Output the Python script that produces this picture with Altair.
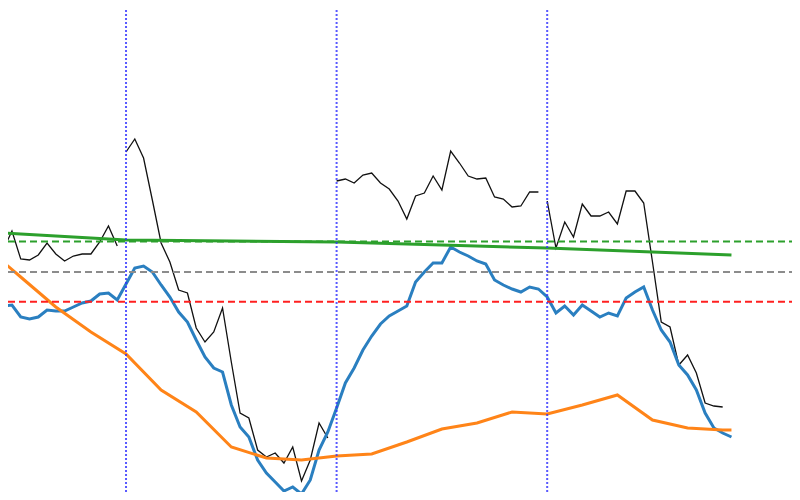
import altair as alt
import pandas as pd

# ---- data (x = time step, y = value) ----
black_seg1_k = list(range(-15, 0))
black_seg1_v = [242, 250, 269, 241, 240, 245, 257, 246, 239, 244, 246, 246, 258, 274, 254]
black_seg2_k = list(range(0, 24))
black_seg2_v = [348, 361, 342, 300, 257, 238, 210, 207, 172, 158, 168, 192, 138, 87, 82, 50,
                43, 47, 37, 53, 19, 40, 77, 62]
black_seg3_k = list(range(24, 48))
black_seg3_v = [319, 321, 317, 325, 327, 317, 311, 299, 281, 304, 307, 324, 310, 349, 337, 324,
                321, 322, 303, 301, 293, 294, 308, 308]
black_seg4_k = list(range(48, 69))
black_seg4_v = [299, 252, 278, 263, 296, 284, 284, 288, 276, 309, 309, 297, 238, 178, 173, 135,
                145, 127, 97, 94, 93]

blue_k = list(range(-15, 70))
blue_v = [194, 194, 195, 183, 181, 183, 190, 189, 189, 193, 197, 199, 206, 207, 200,
          216, 232, 234, 228, 215, 203, 188, 178, 160, 143, 132, 128, 95, 73, 63, 40, 27, 18, 9, 13, 6, 20, 50, 68,
          92, 117, 132, 150, 164, 176, 184, 189, 194, 218, 228, 237, 237, 253, 248, 244, 239, 236, 220, 215, 211, 208, 213, 211,
          203, 187, 194, 185, 195, 189, 183, 187, 184, 202, 208, 213, 190, 170, 158, 135, 125, 110, 87, 72, 67, 63]

orange_k = [-16, -12, -8, -4, 0, 4, 8, 12, 16, 20, 24, 28, 32, 36, 40, 44, 48, 52, 56, 60, 64, 68, 69]
orange_v = [253, 223, 193, 168, 146, 110, 88, 53, 42, 40, 44, 46, 58, 71, 77, 88, 86, 95, 105, 80, 72, 70, 70]

green_k = [-16, -12, -8, -4, 0, 12, 24, 36, 48, 60, 69]
green_v = [268, 266, 264, 262, 260, 259, 258, 255, 252, 248, 245]

hline_names = ["upper", "mid", "lower"]
hline_values = [258.5, 228, 198.3]
hline_colors = ["#2ca02c", "#8c8c8c", "#ff2020"]

vline_k = [0, 24, 48]
vline_top = 490
vline_bottom = 0

# ---- tables ----
black_df = pd.DataFrame({
    "k": black_seg1_k + black_seg2_k + black_seg3_k + black_seg4_k,
    "v": black_seg1_v + black_seg2_v + black_seg3_v + black_seg4_v,
    "seg": [1] * len(black_seg1_k) + [2] * len(black_seg2_k) + [3] * len(black_seg3_k) + [4] * len(black_seg4_k),
})
blue_df = pd.DataFrame({"k": blue_k, "v": blue_v})
orange_df = pd.DataFrame({"k": orange_k, "v": orange_v})
green_df = pd.DataFrame({"k": green_k, "v": green_v})
hline_df = pd.DataFrame({"name": hline_names, "v": hline_values})
vline_df = pd.DataFrame({"k": vline_k, "top": [vline_top] * 3, "bottom": [vline_bottom] * 3})

xs = alt.Scale(domain=[-13.45, 75.9], nice=False, zero=False)
ys = alt.Scale(domain=[8, 492], nice=False, zero=False)
X = alt.X("k:Q", scale=xs, axis=None)
Y = alt.Y("v:Q", scale=ys, axis=None)

black = alt.Chart(black_df).mark_line(color="#111111", strokeWidth=1.3, clip=True).encode(
    x=X, y=Y, detail="seg:N")
blue = alt.Chart(blue_df).mark_line(color="#2a7fc0", strokeWidth=3, clip=True).encode(x=X, y=Y)
orange = alt.Chart(orange_df).mark_line(color="#ff8418", strokeWidth=3, clip=True).encode(x=X, y=Y)
green = alt.Chart(green_df).mark_line(color="#2ca02c", strokeWidth=3, clip=True).encode(x=X, y=Y)

hlines = alt.Chart(hline_df).mark_rule(strokeWidth=2, strokeDash=[7, 4], clip=True).encode(
    y=Y,
    x=alt.value(0),
    x2=alt.value(784),
    color=alt.Color("name:N", scale=alt.Scale(domain=hline_names, range=hline_colors), legend=None),
)

vlines = alt.Chart(vline_df).mark_rule(color="#3030ff", strokeWidth=2, strokeDash=[2, 2],
                                       opacity=0.8, clip=True).encode(
    x=X,
    y=alt.Y("top:Q", scale=ys, axis=None),
    y2="bottom:Q",
)

chart = alt.layer(black, blue, orange, green, hlines, vlines).properties(
    width=784, height=484, padding=0, autosize=alt.AutoSizeParams(type="none")
).configure_view(strokeWidth=0)

chart.save("out.html", embed_options={"renderer": "svg", "actions": False})
